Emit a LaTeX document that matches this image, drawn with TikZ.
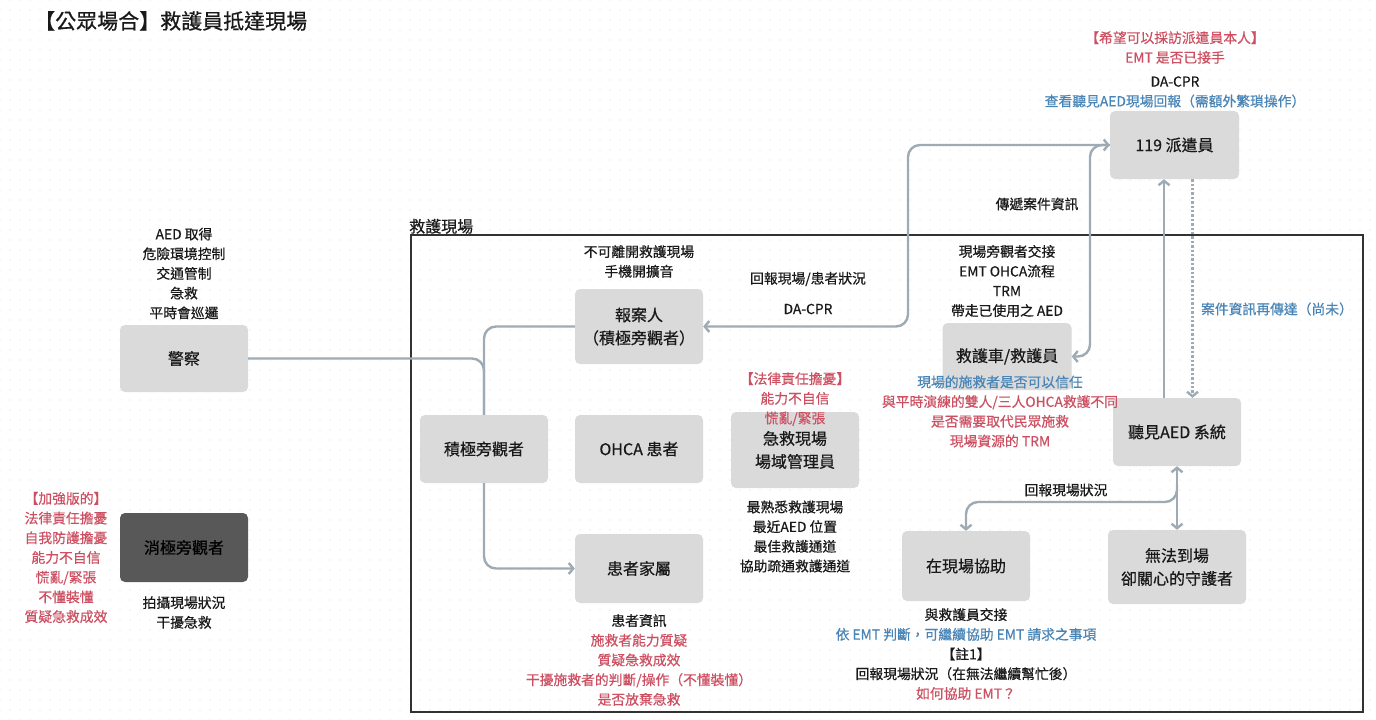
\documentclass[tikz,border=0pt]{standalone}
\usepackage{fontspec}
\setmainfont{Noto Sans CJK TC}[FakeBold=0.5]
\usetikzlibrary{arrows.meta,patterns.meta}
\definecolor{boxg}{RGB}{218,218,218}
\definecolor{darkg}{RGB}{88,88,88}
\definecolor{connc}{RGB}{158,171,180}
\definecolor{nred}{RGB}{205,80,98}
\definecolor{nblue}{RGB}{72,132,182}
\definecolor{txt}{RGB}{25,25,25}
\definecolor{framec}{RGB}{50,50,50}
\begin{document}
\begin{tikzpicture}[x=1pt,y=-1pt,
  box/.style={fill=boxg, rounded corners=5pt, minimum width=128pt, minimum height=68pt, inner sep=0pt, align=center, font=\fontsize{16}{23}\selectfont, text=txt},
  darkbox/.style={box, fill=darkg, text=black},
  note/.style={align=center, inner sep=0pt, font=\fontsize{13.8}{19.7}\selectfont, text=txt},
  link/.style={draw=connc, line width=2.4pt, rounded corners=12pt},
  arr/.style={link, -{Straight Barb[length=4.5pt,width=11pt]}},
  darr/.style={link, {Straight Barb[length=4.5pt,width=11pt]}-{Straight Barb[length=4.5pt,width=11pt]}},
  dotlink/.style={draw=connc, line width=2.4pt, dotted, -{Straight Barb[length=4.5pt,width=11pt]}}
]
\useasboundingbox (0,0) rectangle (1376,720);
\fill[white] (0,0) rectangle (1376,720);
\fill[pattern={Dots[distance=10pt, radius=0.6pt]}, pattern color=black!14] (0,0) rectangle (1376,720);

% title
\node[anchor=west, inner sep=0pt, font=\fontsize{21}{24}\selectfont, text=txt] (title) at (34,21) {【公眾場合】救護員抵達現場};

% frame
\draw[framec, line width=1.5pt] (411,235) rectangle (1363,712);
\node[anchor=south west, inner sep=0pt, font=\fontsize{16}{20}\selectfont, text=txt] (scene) at (409,234) {救護現場};

% boxes
\node[box, minimum height=67pt] (police) at (184,358.5) {警察};
\node[darkbox, minimum height=69pt] (passive) at (184,547.5) {消極旁觀者};
\node[box, minimum height=75pt] (reporter) at (639,326.5) {報案人\\（積極旁觀者）};
\node[box] (active) at (484,449) {積極旁觀者};
\node[box] (ohca) at (639,449) {OHCA 患者};
\node[box, minimum height=76pt] (manager) at (795,450) {急救現場\\場域管理員};
\node[box, minimum height=69pt] (family) at (639,568.5) {患者家屬};
\node[box, minimum width=129pt, minimum height=67pt] (ambulance) at (1007,356.5) {救護車/救護員};
\node[box, minimum width=129pt] (dispatcher) at (1174.5,145) {119 派遣員};
\node[box] (aed) at (1177,432) {聽見AED 系統};
\node[box, minimum height=70pt] (onsite) at (966,566) {在現場協助};
\node[box, minimum width=138pt, minimum height=74pt] (guard) at (1177,567) {無法到場\\卻關心的守護者};

% annotations
\node[note] (policeNote) at (184,273.5) {AED 取得\\危險環境控制\\交通管制\\急救\\平時會巡邏};
\node[note, text=nred] (passiveRed) at (66,557.5) {【加強版的】\\法律責任擔憂\\自我防護擔憂\\能力不自信\\慌亂/緊張\\不懂裝懂\\質疑急救成效};
\node[note] (passiveNote) at (184,612.5) {拍攝現場狀況\\干擾急救};
\node[note] (reporterNote) at (639,261.5) {不可離開救護現場\\手機開擴音};
\node[note] (reportLbl) at (808,279) {回報現場/患者狀況};
\node[note] (dacprLbl) at (808,309) {DA-CPR};
\node[note, text=nred] (managerRed) at (795,399) {【法律責任擔憂】\\能力不自信\\慌亂/緊張};
\node[note] (managerNote) at (795,536.5) {最熟悉救護現場\\最近AED 位置\\最佳救護通道\\協助疏通救護通道};
\node[note] (familyNote) at (639,660) {患者資訊\\\textcolor{nred}{施救者能力質疑}\\\textcolor{nred}{質疑急救成效}\\\textcolor{nred}{干擾施救者的判斷/操作（不懂裝懂）}\\\textcolor{nred}{是否放棄急救}};
\node[note] (ambNote) at (1007,281) {現場旁觀者交接\\EMT OHCA流程\\TRM\\帶走已使用之 AED};
\node[note] (passLbl) at (1037,204) {傳遞案件資訊};
\node[note] (ambBelow) at (1000,411.5) {\textcolor{nblue}{現場的施救者是否可以信任}\\\textcolor{nred}{與平時演練的雙人/三人OHCA救護不同}\\\textcolor{nred}{是否需要取代民眾施救}\\\textcolor{nred}{現場資源的 TRM}};
\node[note, text=nred] (dispRed) at (1175,47.5) {【希望可以採訪派遣員本人】\\EMT 是否已接手};
\node[note] (dispNote) at (1175,92) {DA-CPR\\\textcolor{nblue}{查看聽見AED現場回報（需額外繁瑣操作）}};
\node[note, text=nblue] (reLbl) at (1277,309) {案件資訊再傳達（尚未）};
\node[note] (fieldLbl) at (1066,490) {回報現場狀況};
\node[note] (onsiteNote) at (966,654) {與救護員交接\\\textcolor{nblue}{依 EMT 判斷，可繼續協助 EMT 請求之事項}\\【註1】\\回報現場狀況（在無法繼續幫忙後）\\\textcolor{nred}{如何協助 EMT？}};

% connectors
\coordinate (rv) at (908,240);
\coordinate (av) at (1090,250);
\coordinate (jn) at (1177,484);

\draw[link] (police.east) -| (active.north);
\draw[link] (active.north) |- (reporter.west);
\draw[arr] (active.south) |- (family.west);
\draw[darr] (reporter.east) -| (rv) |- (dispatcher.west);
\draw[arr] (dispatcher.west) -| (av) |- (ambulance.east);
\draw[arr] ([xshift=-13pt]aed.north) -- ([xshift=-10.5pt]dispatcher.south);
\draw[dotlink] ([xshift=18pt]dispatcher.south) -- ([xshift=15.5pt]aed.north);
\draw[darr] (aed.south) -- (guard.north);
\draw[arr] (jn) -- (1177,502) -| (onsite.north);
\end{tikzpicture}
\end{document}
